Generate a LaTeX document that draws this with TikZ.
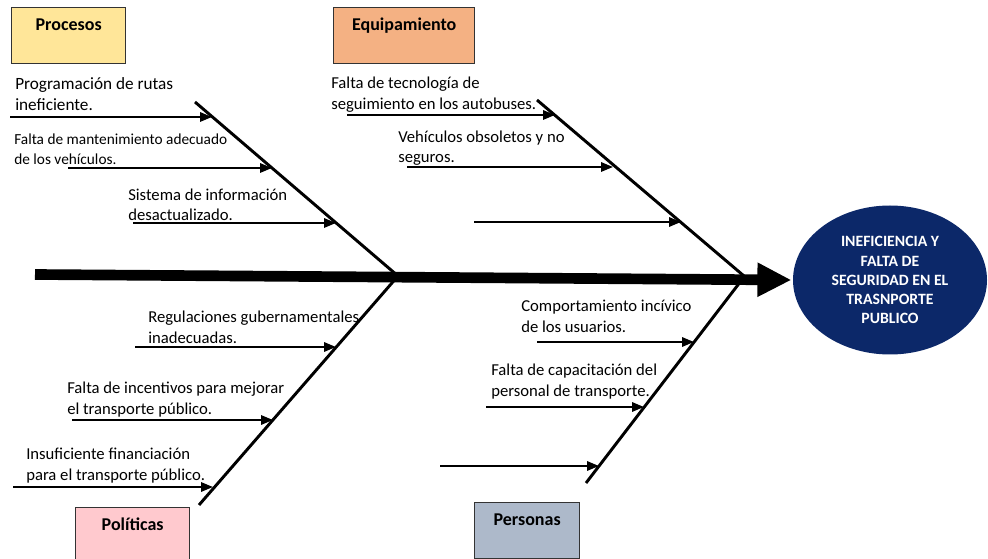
\documentclass[tikz,border=0pt]{standalone}
\usepackage{fontspec}
\setmainfont{Carlito}
\usetikzlibrary{arrows.meta,shapes.geometric}

\definecolor{procesoscol}{HTML}{FFE699}
\definecolor{equipocol}{HTML}{F4B183}
\definecolor{politicacol}{HTML}{FFC9CE}
\definecolor{personacol}{HTML}{ADB9CA}
\definecolor{efectocol}{HTML}{0C2869}

\tikzset{
  catbox/.style={draw=black!80, line width=1pt, anchor=north west, inner sep=0pt,
    text height=17.25pt, text depth=24.75pt, font=\fontsize{13.5}{16}\selectfont\bfseries},
  causa/.style={anchor=north west, align=left, inner sep=0pt,
    font=\fontsize{12.5}{15.3}\selectfont, execute at begin node=\strut},
  efectobox/.style={ellipse, fill=efectocol, text=white, align=center, inner sep=0pt,
    minimum width=145.5pt, minimum height=111.75pt,
    font=\fontsize{11.8}{14.3}\selectfont\bfseries},
  espina/.style={line width=8pt, -{Triangle[length=25.5pt,width=24pt]}},
  hueso/.style={line width=2.2pt},
  flecha/.style={line width=1.6pt, -{Triangle[length=9pt,width=7pt]}},
}

\begin{document}
\begin{tikzpicture}[x=0.75pt, y=-0.75pt]
  \useasboundingbox (0,0) rectangle (988,559);

  % effect and main spine
  \node[efectobox] (efecto) at (890,280)
    {INEFICIENCIA Y\\FALTA DE\\SEGURIDAD EN EL\\TRASNPORTE\\PUBLICO};
  \coordinate (cola) at (35,274.5);
  \draw[espina] (cola) -- ([xshift=-1pt]efecto.west);

  % the four bones
  \coordinate (proc-a) at (195,102);  \coordinate (proc-b) at (398,276);
  \coordinate (equi-a) at (537,100);  \coordinate (equi-b) at (744,276);
  \coordinate (poli-a) at (398,276);  \coordinate (poli-b) at (199,505);
  \coordinate (pers-a) at (744,277);  \coordinate (pers-b) at (586,483);
  \draw[hueso] (proc-a) -- (proc-b);
  \draw[hueso] (equi-a) -- (equi-b);
  \draw[hueso] (poli-a) -- (poli-b);
  \draw[hueso] (pers-a) -- (pers-b);

  % category boxes
  \node[catbox, fill=procesoscol, minimum width=85.5pt] (procesos) at (11,7) {Procesos};
  \node[catbox, fill=equipocol, minimum width=105.75pt] (equipamiento) at (333,7) {Equipamiento};
  \node[catbox, fill=politicacol, minimum width=85.5pt] (politicas) at (75,507) {Políticas};
  \node[catbox, fill=personacol, minimum width=78.75pt] (personas) at (474,502) {Personas};

  % causes: procesos
  \node[causa, font=\fontsize{12.9}{15.6}\selectfont] (rutas) at (15,77.6)
    {Programación de rutas\\ineficiente.};
  \node[causa, font=\fontsize{11.5}{15.3}\selectfont] (mantenimiento) at (14,133.3)
    {Falta de mantenimiento adecuado\\de los vehículos.};
  \node[causa] (sistema) at (128,188.6) {Sistema de información\\desactualizado.};
  \coordinate (p1) at (10,117);   \coordinate (p1e) at (212,117);
  \coordinate (p2) at (68,168);   \coordinate (p2e) at (272,168);
  \coordinate (p3) at (133,223);  \coordinate (p3e) at (336,223);
  \draw[flecha] (p1) -- (p1e);
  \draw[flecha] (p2) -- (p2e);
  \draw[flecha] (p3) -- (p3e);

  % causes: equipamiento
  \node[causa] (tecnologia) at (331,77) {Falta de tecnología de\\seguimiento en los autobuses.};
  \node[causa] (obsoletos) at (398,130.6) {Vehículos obsoletos y no\\seguros.};
  \coordinate (e1) at (347,115);  \coordinate (e1e) at (555,115);
  \coordinate (e2) at (407,167);  \coordinate (e2e) at (613,167);
  \coordinate (e3) at (474,222);  \coordinate (e3e) at (681,222);
  \draw[flecha] (e1) -- (e1e);
  \draw[flecha] (e2) -- (e2e);
  \draw[flecha] (e3) -- (e3e);

  % causes: politicas
  \node[causa] (regulaciones) at (148,311) {Regulaciones gubernamentales\\inadecuadas.};
  \node[causa] (incentivos) at (67,382) {Falta de incentivos para mejorar\\el transporte público.};
  \node[causa] (financiacion) at (26,448) {Insuficiente financiación\\para el transporte público.};
  \coordinate (l1) at (135,347);  \coordinate (l1e) at (336,347);
  \coordinate (l2) at (72,420);   \coordinate (l2e) at (273,420);
  \coordinate (l3) at (13,487);   \coordinate (l3e) at (213,487);
  \draw[flecha] (l1) -- (l1e);
  \draw[flecha] (l2) -- (l2e);
  \draw[flecha] (l3) -- (l3e);

  % causes: personas
  \node[causa] (comportamiento) at (521,300) {Comportamiento incívico\\de los usuarios.};
  \node[causa] (capacitacion) at (491,364) {Falta de capacitación del\\personal de transporte.};
  \coordinate (s1) at (537,342);  \coordinate (s1e) at (694,342);
  \coordinate (s2) at (486,407);  \coordinate (s2e) at (644,407);
  \coordinate (s3) at (440,466);  \coordinate (s3e) at (599,466);
  \draw[flecha] (s1) -- (s1e);
  \draw[flecha] (s2) -- (s2e);
  \draw[flecha] (s3) -- (s3e);

\end{tikzpicture}
\end{document}
